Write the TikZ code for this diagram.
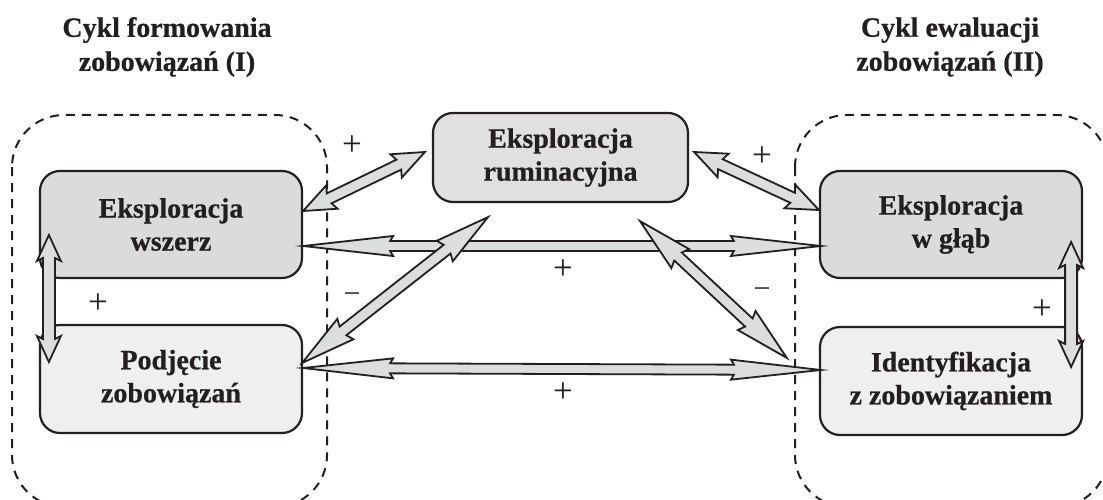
\documentclass[tikz,border=0pt]{standalone}
\usepackage{fontspec}
\setmainfont{Liberation Serif}[BoldFeatures={FakeBold=0.6}]
\usetikzlibrary{calc}
\definecolor{ink}{HTML}{231F20}
\definecolor{boxdark}{HTML}{DBDBDB}
\definecolor{boxmid}{HTML}{E0E0E0}
\definecolor{boxlight}{HTML}{EFEFEF}
\definecolor{arrgray}{HTML}{DCDDDE}
\tikzset{
  box/.style={draw=ink, line width=2.2pt, rounded corners=20pt, minimum width=262pt,
    minimum height=107pt, inner sep=0pt, align=center, text=ink,
    font=\fontsize{28}{33}\selectfont\bfseries},
  title/.style={align=center, text=ink, font=\fontsize{28}{34}\selectfont\bfseries},
  cycle/.style={draw=ink, line width=2pt, dash pattern=on 9pt off 7pt, rounded corners=52pt},
  arr/.style={draw=ink, fill=arrgray, line width=1.8pt, line join=miter},
  sign/.style={text=ink, inner sep=0pt, font=\fontsize{35}{35}\selectfont}
}
% #1 tip A, #2 tip B, #3 head length, #4 head half-width, #5 shaft half-width
\newcommand\dblarr[5]{%
  \coordinate (h1) at ($(#1)!#3!(#2)$);
  \coordinate (h2) at ($(#2)!#3!(#1)$);
  \coordinate (j1) at ($(h1)!3pt!(#1)$);
  \coordinate (j2) at ($(h2)!3pt!(#2)$);
  \filldraw[arr] (#1) -- ($(h1)!#4!90:(#2)$) -- ($(j1)!#5!90:(#2)$)
    -- ($(j2)!#5!90:(#2)$) -- ($(h2)!#4!90:(#2)$) -- (#2)
    -- ($(h2)!#4!-90:(#2)$) -- ($(j2)!#5!-90:(#2)$)
    -- ($(j1)!#5!-90:(#2)$) -- ($(h1)!#4!-90:(#2)$) -- cycle;
}
\begin{document}
\begin{tikzpicture}[x=1pt, y=-1pt]
\useasboundingbox (0,0) rectangle (1103,500);
\begin{scope}
  \clip (0,0) rectangle (1103,500);
  \draw[cycle] (12,115) rectangle (327,507);
  \draw[cycle] (795,115) rectangle (1108,507);
\end{scope}
\node[title] (t1) at (167,47) {Cykl formowania\\zobowiązań (I)};
\node[title] (t2) at (950,47) {Cykl ewaluacji\\zobowiązań (II)};

\node[box, fill=boxdark] (wszerz) at (171,224.5) {Eksploracja\\wszerz};
\node[box, fill=boxlight, minimum height=108pt] (podj) at (171,379) {Podjęcie\\zobowiązań};
\node[box, fill=boxmid, minimum width=255pt, minimum height=89pt] (rumin) at (560.5,157.5) {Eksploracja\\ruminacyjna};
\node[box, fill=boxdark] (glab) at (951,224.5) {Eksploracja\\w głąb};
\node[box, fill=boxlight, minimum height=108pt] (ident) at (951,381) {Identyfikacja\\z zobowiązaniem};

% arrow end points
\coordinate (a1) at ([yshift=13.5pt]wszerz.east);
\coordinate (b1) at ([xshift=-7pt,yshift=5.5pt]rumin.west);
\coordinate (a2) at ([xshift=5pt,yshift=5.5pt]rumin.east);
\coordinate (b2) at ([yshift=14.5pt]glab.west);
\coordinate (a3) at ([yshift=-21.5pt]wszerz.east);
\coordinate (b3) at ([xshift=2pt,yshift=-21.5pt]glab.west);
\coordinate (a4) at ([xshift=-1pt,yshift=16pt]podj.east);
\coordinate (b4) at ([xshift=-72.5pt,yshift=-14pt]rumin.south);
\coordinate (a5) at ([xshift=79.5pt,yshift=-18pt]rumin.south);
\coordinate (b5) at ([xshift=-32pt,yshift=23pt]ident.west);
\coordinate (a6) at ([yshift=11pt]podj.east);
\coordinate (b6) at ([xshift=2pt,yshift=11pt]ident.west);
\coordinate (a7) at ([xshift=10pt,yshift=-10.5pt]wszerz.west);
\coordinate (b7) at ([xshift=10pt,yshift=17pt]podj.west);
\coordinate (a8) at ([xshift=-12pt,yshift=-17.5pt]glab.east);
\coordinate (b8) at ([xshift=-12pt,yshift=14pt]ident.east);

\dblarr{a1}{b1}{32pt}{13pt}{5.5pt}
\dblarr{a2}{b2}{32pt}{13pt}{5.5pt}
\dblarr{a3}{b3}{90pt}{10pt}{5pt}
\dblarr{a4}{b4}{55pt}{13pt}{5.5pt}
\dblarr{a5}{b5}{55pt}{13pt}{5.5pt}
\dblarr{a6}{b6}{90pt}{10pt}{5pt}
\dblarr{a7}{b7}{26pt}{12pt}{6pt}
\dblarr{a8}{b8}{26pt}{12pt}{6pt}

\node[sign] (p1) at (352,146) {+};
\node[sign] (p2) at (762,157) {+};
\node[sign] (p3) at (563,270) {+};
\node[sign] (p4) at (563,393) {+};
\node[sign] (p5) at (98,304) {+};
\node[sign] (p6) at (1042,310) {+};
\node[sign, font=\fontsize{30}{30}\selectfont] (m1) at (352,298) {−};
\node[sign, font=\fontsize{30}{30}\selectfont] (m2) at (762,293) {−};
\end{tikzpicture}
\end{document}
